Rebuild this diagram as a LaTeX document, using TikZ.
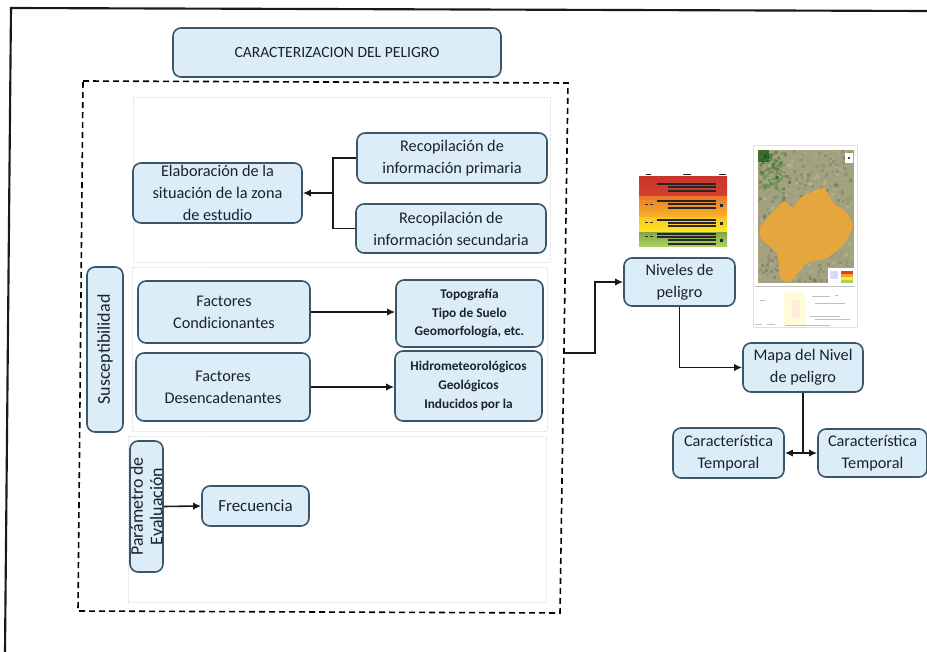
\documentclass[tikz,border=0pt]{standalone}
\usepackage{fontspec}
\setmainfont{Carlito}
\usetikzlibrary{arrows.meta}
\definecolor{bxfill}{HTML}{DDEDF8}
\definecolor{bxline}{HTML}{3A566B}
\definecolor{txt}{HTML}{16242E}
\definecolor{mapbase}{HTML}{A3A27F}
\definecolor{blob}{HTML}{E5A63E}
\definecolor{rkred}{HTML}{D8402E}
\definecolor{rkdeep}{HTML}{C9362B}
\definecolor{rkor}{HTML}{F6A12D}
\definecolor{rkye}{HTML}{FFEC1E}
\definecolor{rkgr}{HTML}{A8D25C}
\tikzset{
  bx/.style={draw=bxline,fill=bxfill,line width=1.2pt,rounded corners=6pt,inner sep=0pt,align=center,text=txt,font=\fontsize{12.2pt}{16.5pt}\selectfont},
  titletext/.style={font=\fontsize{11.7pt}{14pt}\selectfont},
  listtext/.style={font=\fontsize{10pt}{14pt}\selectfont\bfseries},
  suscept/.style={font=\fontsize{13.5pt}{16pt}\selectfont},
  paramtext/.style={font=\fontsize{13.4pt}{14.6pt}\selectfont},
  frectext/.style={font=\fontsize{12.7pt}{16pt}\selectfont},
  ln/.style={draw=black!90,line width=1.2pt},
  arr/.style={ln,-{Latex[length=6pt,width=5.5pt]}},
  panel/.style={draw=black!15,line width=0.5pt,densely dotted},
  frame/.style={draw=black!90,line width=1.6pt},
  dashbox/.style={draw=black,line width=1.2pt,dash pattern=on 4.5pt off 3pt},
  bar/.style={fill=black!85,draw=none},
  fine/.style={fill=black!25,draw=none}
}
\newcommand{\bxn}[7][]{\node[bx,#1,minimum width={(#5-#3)*0.75pt},minimum height={(#6-#4)*0.75pt}] (#2) at ({(#3+#5)/2},{(#4+#6)/2}) {#7};}
\newcommand{\bxr}[7][]{\node[bx,#1,rotate=90,minimum width={(#6-#4)*0.75pt},minimum height={(#5-#3)*0.75pt}] (#2) at ({(#3+#5)/2},{(#4+#6)/2}) {#7};}
\begin{document}
\begin{tikzpicture}[x=0.75pt,y=-0.75pt]
\useasboundingbox (0,0) rectangle (927,652);
% outer frame (top and left only)
\draw[frame] (927,11) -- (11,8) -- (5,652);
% inner panels
\draw[panel] (133,97) rectangle (550,262);
\draw[panel] (132,267) rectangle (547,431);
\draw[panel] (128,436) rectangle (546,602);
% dashed enclosure
\draw[dashbox] (83,81) -- (568,83) -- (560,613) -- (78,611) -- cycle;
% boxes
\bxn[titletext]{title}{173}{28}{501}{77}{CARACTERIZACION DEL PELIGRO}
\bxn{elab}{133}{163}{302}{223}{Elaboración de la\\situación de la zona\\de estudio}
\bxn{rec1}{357}{133}{547}{183}{Recopilación de\\información primaria}
\bxn{rec2}{356}{204}{546}{253}{Recopilación de\\información secundaria}
\bxn{cond}{138}{281}{310}{343}{Factores\\Condicionantes}
\bxn{des}{136}{353}{310}{421}{Factores\\Desencadenantes}
\bxn[listtext]{topo}{396}{280}{543}{347}{Topografía\\Tipo de Suelo\\Geomorfología, etc.}
\bxn[listtext]{hidro}{395}{351}{542}{421}{Hidrometeorológicos\\Geológicos\\Inducidos por la}
\bxr[suscept]{sus}{87}{267}{123}{432}{Susceptibilidad}
\bxr[paramtext]{par}{130}{441}{163}{572}{Parámetro de\\Evaluación}
\bxn[frectext]{frec}{202}{486}{309}{526}{Frecuencia}
\bxn{niv}{624}{258}{735}{306}{Niveles de\\peligro}
\bxn{mapa}{743}{343}{863}{392}{Mapa del Nivel\\de peligro}
\bxn{ct1}{673}{428}{784}{478}{Característica\\Temporal}
\bxn{ct2}{818}{429}{927}{477}{Característica\\Temporal}
% connectors
\coordinate (j) at (333,193);
\draw[ln] (rec1.west) -| (j);
\draw[ln] (rec2.west) -| (j);
\draw[arr] (j) -- (elab.east);
\draw[arr] (cond.east) -- (cond.east -| topo.west);
\draw[arr] (des.east) -- (des.east -| hidro.west);
\draw[arr] (par.south) -- (frec.west);
\coordinate (dq) at (564,353);
\coordinate (d2) at (595,353);
\draw[arr] (dq) -- (d2) |- (niv.west);
\draw[arr] (niv.south) |- (mapa.west);
\coordinate (m1) at (803,453);
\draw[ln] (mapa.south) -- (m1);
\draw[arr] (m1) -- (ct1.east);
\draw[arr] (m1) -- (ct2.west);
% risk table picture
\shade[top color=rkdeep,bottom color=rkred] (639,177) rectangle (727,197);
\shade[top color=rkred!40!rkor,bottom color=rkor!70!rkye] (639,197) rectangle (727,218);
\shade[top color=rkor!50!rkye,bottom color=rkye] (639,218) rectangle (727,233);
\shade[top color=rkgr!80!black,bottom color=rkgr] (639,233) rectangle (727,246);
\foreach \xa/\xb/\yy in {657/716/183,668/716/186,668/716/190, 657/716/200,668/716/203,668/716/207,
  657/716/219,668/716/222,668/716/225, 657/716/233,657/716/236,668/716/239,668/716/243}{
  \fill[bar] (\xa,\yy) rectangle (\xb,\yy+1.6);
}
\foreach \xa/\yy in {645/204,650/204,645/222,650/222,645/236,650/236}{\fill[bar] (\xa,\yy) rectangle (\xa+3,\yy+1);}
\foreach \xa/\yy in {720/204,720/222,720/239}{\fill[bar] (\xa,\yy) rectangle (\xa+3,\yy+3);}
\foreach \xa/\xb in {646/651,683/691,719/726}{\fill[bar] (\xa,174) rectangle (\xb,175.5);}
% map picture
\fill[white] (753,145) rectangle (857,327);
\draw[black!12,line width=0.4pt] (753,145) rectangle (857,327);
\fill[mapbase] (758,150) rectangle (854,283);
\pgfmathsetseed{7}
\foreach \i in {1,...,520}{
  \pgfmathsetmacro{\px}{758+rnd*93}
  \pgfmathsetmacro{\py}{150+rnd*130}
  \pgfmathsetmacro{\mx}{rnd*100}
  \fill[black!\mx!white,opacity=.16] (\px,\py) rectangle (\px+3,\py+3);
}
\foreach \i in {1,...,90}{
  \pgfmathsetmacro{\px}{758+rnd*25}
  \pgfmathsetmacro{\py}{150+rnd*38}
  \fill[black!60!green,opacity=.22] (\px,\py) rectangle (\px+3,\py+3);
}
\fill[black!70!green,opacity=.6] (758,150) rectangle (769,162);
\fill[blob] plot[smooth cycle,tension=.35] coordinates {(760,227) (783,202) (793,208) (800,198) (823,188) (833,202) (847,213) (853,227) (843,245) (827,258) (807,263) (790,282) (780,277) (777,253) (762,240)};
\fill[white] (845,153) rectangle (853,163);
\fill[black!70] (848,157) rectangle (850,159);
\fill[white] (828,268) rectangle (854,283);
\fill[rkred] (841,271) rectangle (853,274);
\fill[rkor] (841,274) rectangle (853,277);
\fill[rkye] (841,277) rectangle (853,280);
\fill[rkgr] (841,280) rectangle (853,283);
\fill[blue!15] (830,271) rectangle (838,279);
\fill[yellow!15] (784,292) rectangle (806,325);
\fill[orange!15] (792,300) rectangle (800,318);
\foreach \xa/\xb/\yy in {755/855/286,812/830/296,815/845/303,810/840/316,815/850/319,755/762/324,767/775/324,785/830/325,835/838/295,760/765/300}{
  \fill[fine] (\xa,\yy) rectangle (\xb,\yy+1);
}
\end{tikzpicture}
\end{document}
